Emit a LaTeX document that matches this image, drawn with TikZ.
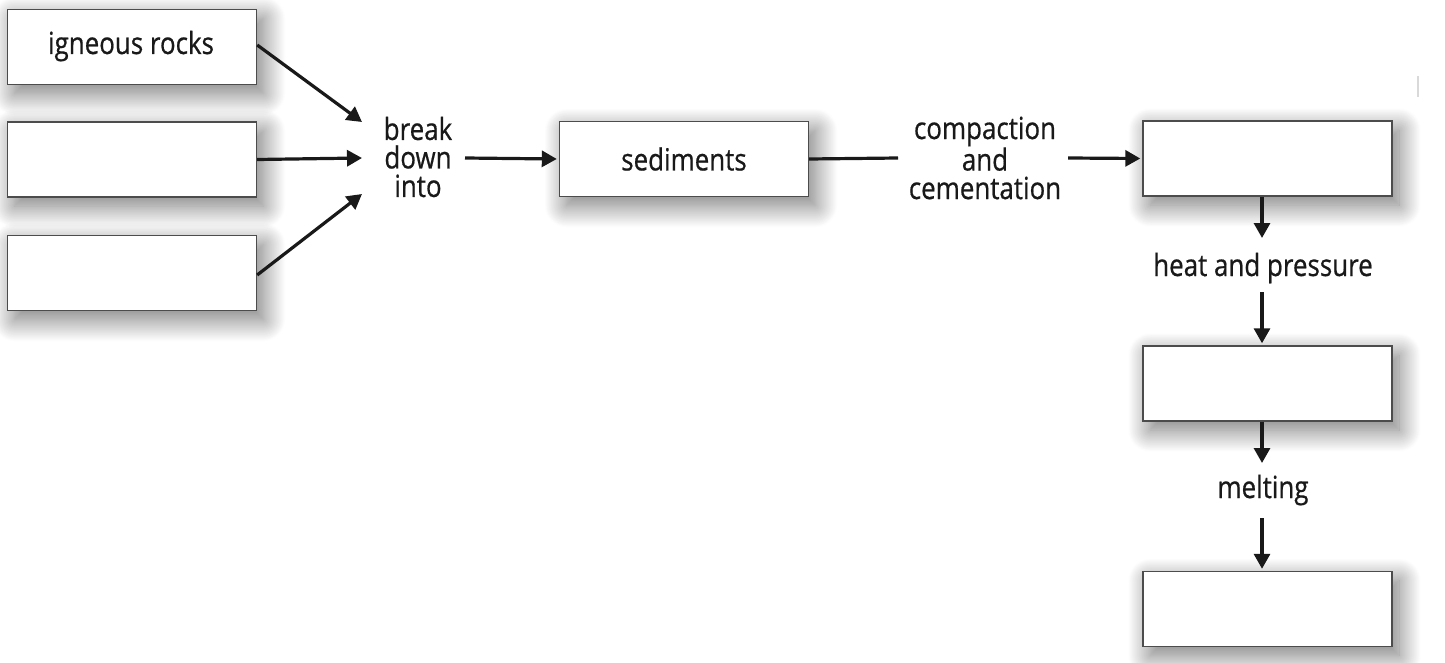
\documentclass[tikz,border=0pt]{standalone}
\usepackage{fontspec}
\setmainfont[FakeStretch=0.85,FakeBold=0.6]{Open Sans}
\usetikzlibrary{arrows.meta,shadows.blur}
\begin{document}
\begin{tikzpicture}[x=1pt,y=-1pt,
 box/.style={draw=black!70,line width=1.4pt,fill=white,minimum width=249pt,minimum height=75pt,inner sep=0pt,
   blur shadow={shadow xshift=7pt,shadow yshift=-9pt,shadow blur radius=22pt,shadow blur steps=40,shadow opacity=55}},
 lbl/.style={font=\fontsize{30.5}{28.5}\selectfont,text=black!90,align=center,inner sep=0pt},
 arr/.style={line width=3.2pt,draw=black!90,-{Triangle[length=15pt,width=16pt]}},
 ln/.style={line width=3.2pt,draw=black!90}]
\useasboundingbox (0,0) rectangle (1445,663);
% left boxes
\node[box] (b1) at (132,47) {};
\node[lbl,anchor=base] (t1) at (131,54) {igneous rocks};
\node[box] (b2) at (132,159.5) {};
\node[box] (b3) at (132,273) {};
% break down into
\node[lbl] (bd) at (418,157) {break\\down\\into};
\coordinate (bin1) at (362,122);
\coordinate (bin2) at (362,158);
\coordinate (bin3) at (362,194);
\draw[arr] ([yshift=2pt]b1.east) -- (bin1);
\draw[arr] (b2.east) -- (bin2);
\draw[arr] ([yshift=-2pt]b3.east) -- (bin3);
% sediments
\node[box] (sed) at (684,159) {};
\node[lbl] at (sed.center) {sediments};
\coordinate (bout) at (465,158);
\draw[arr] (bout) -- ([xshift=-2pt]sed.west);
% compaction
\node[lbl] (cc) at (985,158) {compaction\\and\\cementation};
\coordinate (ccin) at (898,158);
\coordinate (ccout) at (1068,158);
\draw[ln] (sed.east) -- (ccin);
% right column
\node[box] (r1) at (1267.5,158.5) {};
\draw[arr] (ccout) -- ([xshift=-2pt]r1.west);
\node[lbl,anchor=base] (hp) at (1263,276) {heat and pressure};
\node[box] (r2) at (1267.5,383.5) {};
\node[lbl,anchor=base] (ml) at (1263,498) {melting};
\node[box] (r3) at (1267.5,609) {};
\coordinate (a1) at (1262,238);
\coordinate (a2t) at (1262,292);
\coordinate (a3b) at (1262,463);
\coordinate (a4t) at (1262,518);
\draw[arr] (r1.south -| a1) -- (a1);
\draw[arr] (a2t) -- ([yshift=2pt]r2.north -| a2t);
\draw[arr] (r2.south -| a3b) -- (a3b);
\draw[arr] (a4t) -- ([yshift=2pt]r3.north -| a4t);
% faint mark
\draw[black!15,line width=2pt] (1418,76) -- (1418,97);
\end{tikzpicture}
\end{document}
